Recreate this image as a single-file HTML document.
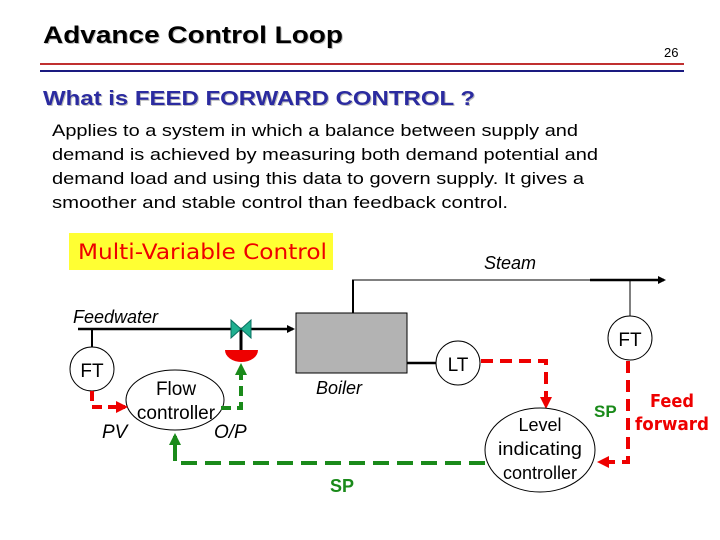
<!DOCTYPE html>
<html><head><meta charset="utf-8"><style>
body{margin:0;background:#fff}
svg{display:block}
text{font-family:"Liberation Sans",sans-serif}
</style></head><body>
<svg width="720" height="540" viewBox="0 0 720 540" xmlns="http://www.w3.org/2000/svg">
<defs>
<marker id="ab" markerWidth="8" markerHeight="8" refX="6" refY="4" orient="auto" markerUnits="userSpaceOnUse"><path d="M0,0 L8,4 L0,8z" fill="#000"/></marker>
<marker id="ar" markerWidth="12" markerHeight="12" refX="9" refY="6" orient="auto" markerUnits="userSpaceOnUse"><path d="M0,0 L12,6 L0,12z" fill="#e00"/></marker>
<marker id="ag" markerWidth="12" markerHeight="12" refX="9" refY="6" orient="auto" markerUnits="userSpaceOnUse"><path d="M0,0 L12,6 L0,12z" fill="#1a8a1a"/></marker>
</defs>
<text x="44" y="44" font-size="24" font-weight="bold" fill="#bbb" textLength="300" lengthAdjust="spacingAndGlyphs">Advance Control Loop</text>
<text x="43" y="43" font-size="24" font-weight="bold" fill="#000" textLength="300" lengthAdjust="spacingAndGlyphs">Advance Control Loop</text>
<text x="664" y="57" font-size="13">26</text>
<line x1="40" y1="64" x2="684" y2="64" stroke="#c03030" stroke-width="2"/>
<line x1="40" y1="71" x2="684" y2="71" stroke="#1a1a80" stroke-width="2"/>
<text x="44" y="106" font-size="20" font-weight="bold" fill="#bbb" textLength="432" lengthAdjust="spacingAndGlyphs">What is FEED FORWARD CONTROL ?</text>
<text x="43" y="105" font-size="20" font-weight="bold" fill="#2b2ba0" textLength="432" lengthAdjust="spacingAndGlyphs">What is FEED FORWARD CONTROL ?</text>
<g font-size="17" fill="#000">
<text x="52" y="136" textLength="526" lengthAdjust="spacingAndGlyphs">Applies to a system in which a balance between supply and</text>
<text x="52" y="160" textLength="546" lengthAdjust="spacingAndGlyphs">demand is achieved by measuring both demand potential and</text>
<text x="52" y="184" textLength="532" lengthAdjust="spacingAndGlyphs">demand load and using this data to govern supply. It gives a</text>
<text x="52" y="208" textLength="456" lengthAdjust="spacingAndGlyphs">smoother and stable  control than feedback control.</text>
</g>
<rect x="69" y="233" width="264" height="37" fill="#ffff33"/>
<text x="78" y="259" font-size="21" fill="#e00" style="font-family:'DejaVu Sans',sans-serif" textLength="249" lengthAdjust="spacingAndGlyphs">Multi-Variable Control</text>
<text x="484" y="269" font-size="18" font-style="italic">Steam</text>
<line x1="353" y1="313" x2="353" y2="280" stroke="#000" stroke-width="2"/>
<line x1="352" y1="280" x2="590" y2="280" stroke="#000" stroke-width="1"/>
<line x1="590" y1="280" x2="664" y2="280" stroke="#000" stroke-width="2.5" marker-end="url(#ab)"/>
<line x1="630" y1="280" x2="630" y2="316" stroke="#000" stroke-width="1"/>
<circle cx="630" cy="338" r="22" fill="#fff" stroke="#000"/>
<text x="630" y="346" font-size="19" text-anchor="middle">FT</text>
<text x="73" y="323" font-size="18" font-style="italic">Feedwater</text>
<line x1="78" y1="329" x2="293" y2="329" stroke="#000" stroke-width="2.5" marker-end="url(#ab)"/>
<line x1="241" y1="329" x2="241" y2="351" stroke="#000" stroke-width="3"/>
<path d="M231,320 L241,329 L231,338z M251,320 L241,329 L251,338z" fill="#20b090" stroke="#087060"/>
<path d="M225,350 L258,350 A16.5,12 0 0 1 225,350z" fill="#e00"/>
<rect x="296" y="313" width="111" height="60" fill="#b3b3b3" stroke="#000"/>
<text x="316" y="394" font-size="18" font-style="italic">Boiler</text>
<line x1="92" y1="329" x2="92" y2="347" stroke="#000" stroke-width="2"/>
<circle cx="92" cy="369" r="22" fill="#fff" stroke="#000"/>
<text x="92" y="377" font-size="19" text-anchor="middle">FT</text>
<ellipse cx="175" cy="400" rx="49" ry="30" fill="#fff" stroke="#000"/>
<text x="176" y="395" font-size="19" text-anchor="middle">Flow</text>
<text x="176" y="419" font-size="19" text-anchor="middle">controller</text>
<text x="102" y="438" font-size="19" font-style="italic">PV</text>
<text x="214" y="438" font-size="19" font-style="italic">O/P</text>
<path d="M92,391 L92,407 L125,407" fill="none" stroke="#e00" stroke-width="4" stroke-dasharray="10,6" marker-end="url(#ar)"/>
<path d="M221,408 L241,408 L241,366" fill="none" stroke="#1a8a1a" stroke-width="4" stroke-dasharray="10,6" marker-end="url(#ag)"/>
<path d="M485,463 L175,463 L175,436" fill="none" stroke="#1a8a1a" stroke-width="4" stroke-dasharray="16,8" marker-end="url(#ag)"/>
<text x="330" y="492" font-size="18" font-weight="bold" fill="#1a8a1a">SP</text>
<line x1="407" y1="363" x2="436" y2="363" stroke="#000" stroke-width="2.5"/>
<circle cx="458" cy="363" r="22" fill="#fff" stroke="#000"/>
<text x="458" y="371" font-size="19" text-anchor="middle">LT</text>
<path d="M481,361 L546,361 L546,406" fill="none" stroke="#e00" stroke-width="4" stroke-dasharray="12,7" marker-end="url(#ar)"/>
<ellipse cx="540" cy="450" rx="55" ry="42" fill="#fff" stroke="#000"/>
<text x="540" y="431" font-size="18" text-anchor="middle">Level</text>
<text x="540" y="455" font-size="18" text-anchor="middle" textLength="84" lengthAdjust="spacingAndGlyphs">indicating</text>
<text x="540" y="479" font-size="18" text-anchor="middle">controller</text>
<path d="M628,361 L628,462 L600,462" fill="none" stroke="#e00" stroke-width="4" stroke-dasharray="12,7" marker-end="url(#ar)"/>
<text x="594" y="417" font-size="17" font-weight="bold" fill="#1a8a1a">SP</text>
<text x="672" y="407" font-size="18" font-weight="bold" fill="#e00" text-anchor="middle" style="font-family:'DejaVu Sans',sans-serif" textLength="44" lengthAdjust="spacingAndGlyphs">Feed</text>
<text x="672" y="430" font-size="18" font-weight="bold" fill="#e00" text-anchor="middle" style="font-family:'DejaVu Sans',sans-serif" textLength="74" lengthAdjust="spacingAndGlyphs">forward</text>
</svg>
</body></html>
